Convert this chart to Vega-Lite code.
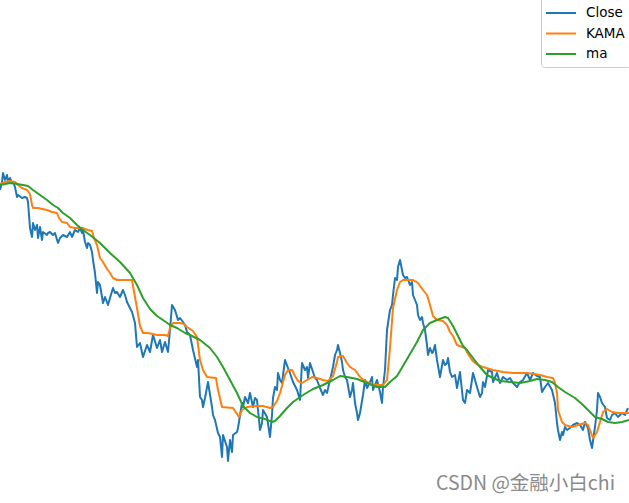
{
  "$schema": "https://vega.github.io/schema/vega-lite/v6.json",
  "width": 629,
  "height": 503,
  "autosize": {"type": "none"},
  "padding": 0,
  "background": "white",
  "config": {"view": {"stroke": null}},
  "datasets": {
    "prices": [
      {"day": 0, "series": "Close", "price": 31.3}, {"day": 2, "series": "Close", "price": 32.1}, {"day": 3, "series": "Close", "price": 33.0},
      {"day": 5, "series": "Close", "price": 32.3}, {"day": 7, "series": "Close", "price": 32.8}, {"day": 8, "series": "Close", "price": 32.1},
      {"day": 10, "series": "Close", "price": 32.5}, {"day": 12, "series": "Close", "price": 32.0}, {"day": 13, "series": "Close", "price": 32.1},
      {"day": 15, "series": "Close", "price": 31.6}, {"day": 17, "series": "Close", "price": 30.6}, {"day": 18, "series": "Close", "price": 30.8},
      {"day": 22, "series": "Close", "price": 30.5}, {"day": 25, "series": "Close", "price": 30.6}, {"day": 27, "series": "Close", "price": 30.5},
      {"day": 28, "series": "Close", "price": 30.1}, {"day": 29, "series": "Close", "price": 28.8}, {"day": 30, "series": "Close", "price": 27.5},
      {"day": 32, "series": "Close", "price": 26.6}, {"day": 33, "series": "Close", "price": 28.0}, {"day": 35, "series": "Close", "price": 27.3},
      {"day": 37, "series": "Close", "price": 27.8}, {"day": 38, "series": "Close", "price": 26.5}, {"day": 40, "series": "Close", "price": 27.6},
      {"day": 42, "series": "Close", "price": 26.3}, {"day": 43, "series": "Close", "price": 27.1}, {"day": 47, "series": "Close", "price": 26.8},
      {"day": 48, "series": "Close", "price": 27.0}, {"day": 50, "series": "Close", "price": 27.1}, {"day": 53, "series": "Close", "price": 26.8},
      {"day": 55, "series": "Close", "price": 27.0}, {"day": 58, "series": "Close", "price": 26.0}, {"day": 60, "series": "Close", "price": 26.5},
      {"day": 63, "series": "Close", "price": 26.8}, {"day": 67, "series": "Close", "price": 26.6}, {"day": 70, "series": "Close", "price": 27.1},
      {"day": 72, "series": "Close", "price": 26.6}, {"day": 75, "series": "Close", "price": 27.3}, {"day": 78, "series": "Close", "price": 27.1},
      {"day": 80, "series": "Close", "price": 27.5}, {"day": 82, "series": "Close", "price": 27.0}, {"day": 83, "series": "Close", "price": 27.3},
      {"day": 85, "series": "Close", "price": 26.1}, {"day": 87, "series": "Close", "price": 25.5}, {"day": 88, "series": "Close", "price": 26.0},
      {"day": 90, "series": "Close", "price": 25.8}, {"day": 92, "series": "Close", "price": 25.1}, {"day": 93, "series": "Close", "price": 24.3},
      {"day": 95, "series": "Close", "price": 23.0}, {"day": 97, "series": "Close", "price": 21.0}, {"day": 98, "series": "Close", "price": 22.1},
      {"day": 100, "series": "Close", "price": 21.8}, {"day": 103, "series": "Close", "price": 20.0}, {"day": 105, "series": "Close", "price": 20.6},
      {"day": 108, "series": "Close", "price": 19.8}, {"day": 110, "series": "Close", "price": 20.5}, {"day": 113, "series": "Close", "price": 21.5},
      {"day": 115, "series": "Close", "price": 21.0}, {"day": 117, "series": "Close", "price": 21.1}, {"day": 120, "series": "Close", "price": 20.6},
      {"day": 123, "series": "Close", "price": 21.3}, {"day": 125, "series": "Close", "price": 20.8}, {"day": 127, "series": "Close", "price": 20.1},
      {"day": 130, "series": "Close", "price": 19.5}, {"day": 132, "series": "Close", "price": 19.1}, {"day": 135, "series": "Close", "price": 18.0},
      {"day": 137, "series": "Close", "price": 15.6}, {"day": 140, "series": "Close", "price": 16.0}, {"day": 143, "series": "Close", "price": 14.6},
      {"day": 147, "series": "Close", "price": 15.8}, {"day": 150, "series": "Close", "price": 15.1}, {"day": 153, "series": "Close", "price": 16.8},
      {"day": 157, "series": "Close", "price": 15.5}, {"day": 160, "series": "Close", "price": 16.3}, {"day": 162, "series": "Close", "price": 15.1},
      {"day": 165, "series": "Close", "price": 16.1}, {"day": 168, "series": "Close", "price": 15.1}, {"day": 170, "series": "Close", "price": 17.3},
      {"day": 172, "series": "Close", "price": 19.8}, {"day": 175, "series": "Close", "price": 19.3}, {"day": 178, "series": "Close", "price": 18.3},
      {"day": 180, "series": "Close", "price": 18.5}, {"day": 183, "series": "Close", "price": 18.1}, {"day": 185, "series": "Close", "price": 17.8},
      {"day": 187, "series": "Close", "price": 17.1}, {"day": 190, "series": "Close", "price": 16.8}, {"day": 193, "series": "Close", "price": 15.3},
      {"day": 197, "series": "Close", "price": 13.6}, {"day": 198, "series": "Close", "price": 14.3}, {"day": 200, "series": "Close", "price": 10.6},
      {"day": 202, "series": "Close", "price": 10.3}, {"day": 203, "series": "Close", "price": 9.6}, {"day": 205, "series": "Close", "price": 10.5},
      {"day": 208, "series": "Close", "price": 12.1}, {"day": 212, "series": "Close", "price": 9.6}, {"day": 213, "series": "Close", "price": 8.8},
      {"day": 215, "series": "Close", "price": 8.3}, {"day": 218, "series": "Close", "price": 7.0}, {"day": 220, "series": "Close", "price": 6.6},
      {"day": 222, "series": "Close", "price": 4.6}, {"day": 223, "series": "Close", "price": 6.8}, {"day": 227, "series": "Close", "price": 5.6},
      {"day": 228, "series": "Close", "price": 4.2}, {"day": 230, "series": "Close", "price": 6.3}, {"day": 232, "series": "Close", "price": 5.1},
      {"day": 233, "series": "Close", "price": 6.8}, {"day": 237, "series": "Close", "price": 7.1}, {"day": 238, "series": "Close", "price": 7.5},
      {"day": 242, "series": "Close", "price": 10.0}, {"day": 243, "series": "Close", "price": 9.6}, {"day": 245, "series": "Close", "price": 10.6},
      {"day": 248, "series": "Close", "price": 10.0}, {"day": 250, "series": "Close", "price": 11.0}, {"day": 253, "series": "Close", "price": 9.6},
      {"day": 255, "series": "Close", "price": 10.5}, {"day": 257, "series": "Close", "price": 10.3}, {"day": 260, "series": "Close", "price": 7.3},
      {"day": 262, "series": "Close", "price": 8.0}, {"day": 263, "series": "Close", "price": 9.3}, {"day": 267, "series": "Close", "price": 8.6},
      {"day": 270, "series": "Close", "price": 6.6}, {"day": 272, "series": "Close", "price": 8.8}, {"day": 273, "series": "Close", "price": 10.5},
      {"day": 275, "series": "Close", "price": 11.6}, {"day": 277, "series": "Close", "price": 11.3}, {"day": 278, "series": "Close", "price": 13.0},
      {"day": 280, "series": "Close", "price": 12.3}, {"day": 282, "series": "Close", "price": 12.0}, {"day": 285, "series": "Close", "price": 14.3},
      {"day": 288, "series": "Close", "price": 13.5}, {"day": 290, "series": "Close", "price": 13.0}, {"day": 293, "series": "Close", "price": 12.1},
      {"day": 297, "series": "Close", "price": 11.3}, {"day": 300, "series": "Close", "price": 10.3}, {"day": 302, "series": "Close", "price": 14.0},
      {"day": 305, "series": "Close", "price": 13.3}, {"day": 307, "series": "Close", "price": 13.6}, {"day": 308, "series": "Close", "price": 12.5},
      {"day": 310, "series": "Close", "price": 14.0}, {"day": 313, "series": "Close", "price": 13.1}, {"day": 315, "series": "Close", "price": 12.5},
      {"day": 317, "series": "Close", "price": 12.3}, {"day": 320, "series": "Close", "price": 11.5}, {"day": 323, "series": "Close", "price": 10.8},
      {"day": 325, "series": "Close", "price": 11.3}, {"day": 327, "series": "Close", "price": 11.0}, {"day": 330, "series": "Close", "price": 12.3},
      {"day": 333, "series": "Close", "price": 13.6}, {"day": 335, "series": "Close", "price": 14.8}, {"day": 337, "series": "Close", "price": 15.3},
      {"day": 338, "series": "Close", "price": 15.8}, {"day": 340, "series": "Close", "price": 15.0}, {"day": 342, "series": "Close", "price": 14.1},
      {"day": 343, "series": "Close", "price": 13.3}, {"day": 345, "series": "Close", "price": 12.6}, {"day": 347, "series": "Close", "price": 12.3},
      {"day": 350, "series": "Close", "price": 10.6}, {"day": 352, "series": "Close", "price": 11.3}, {"day": 353, "series": "Close", "price": 12.0},
      {"day": 355, "series": "Close", "price": 10.0}, {"day": 357, "series": "Close", "price": 9.0}, {"day": 358, "series": "Close", "price": 8.3},
      {"day": 360, "series": "Close", "price": 9.0}, {"day": 363, "series": "Close", "price": 10.8}, {"day": 365, "series": "Close", "price": 12.3},
      {"day": 367, "series": "Close", "price": 11.5}, {"day": 370, "series": "Close", "price": 12.1}, {"day": 372, "series": "Close", "price": 12.6},
      {"day": 373, "series": "Close", "price": 11.3}, {"day": 377, "series": "Close", "price": 12.3}, {"day": 380, "series": "Close", "price": 11.1},
      {"day": 382, "series": "Close", "price": 10.0}, {"day": 383, "series": "Close", "price": 11.6}, {"day": 385, "series": "Close", "price": 13.3},
      {"day": 387, "series": "Close", "price": 17.3}, {"day": 390, "series": "Close", "price": 19.3}, {"day": 392, "series": "Close", "price": 19.8},
      {"day": 393, "series": "Close", "price": 20.8}, {"day": 395, "series": "Close", "price": 22.5}, {"day": 397, "series": "Close", "price": 22.3},
      {"day": 398, "series": "Close", "price": 23.6}, {"day": 400, "series": "Close", "price": 24.3}, {"day": 402, "series": "Close", "price": 23.3},
      {"day": 403, "series": "Close", "price": 22.8}, {"day": 405, "series": "Close", "price": 22.5}, {"day": 407, "series": "Close", "price": 22.6},
      {"day": 410, "series": "Close", "price": 21.8}, {"day": 412, "series": "Close", "price": 22.1}, {"day": 413, "series": "Close", "price": 20.8},
      {"day": 415, "series": "Close", "price": 20.3}, {"day": 417, "series": "Close", "price": 19.8}, {"day": 418, "series": "Close", "price": 18.8},
      {"day": 420, "series": "Close", "price": 18.3}, {"day": 422, "series": "Close", "price": 18.6}, {"day": 423, "series": "Close", "price": 18.0},
      {"day": 425, "series": "Close", "price": 17.3}, {"day": 427, "series": "Close", "price": 15.8}, {"day": 428, "series": "Close", "price": 14.8},
      {"day": 430, "series": "Close", "price": 15.5}, {"day": 432, "series": "Close", "price": 15.0}, {"day": 433, "series": "Close", "price": 15.1},
      {"day": 435, "series": "Close", "price": 15.8}, {"day": 437, "series": "Close", "price": 14.3}, {"day": 440, "series": "Close", "price": 12.6},
      {"day": 443, "series": "Close", "price": 14.3}, {"day": 445, "series": "Close", "price": 13.8}, {"day": 447, "series": "Close", "price": 14.0},
      {"day": 448, "series": "Close", "price": 14.5}, {"day": 450, "series": "Close", "price": 13.1}, {"day": 452, "series": "Close", "price": 12.6},
      {"day": 455, "series": "Close", "price": 12.8}, {"day": 457, "series": "Close", "price": 11.5}, {"day": 460, "series": "Close", "price": 13.1},
      {"day": 463, "series": "Close", "price": 10.3}, {"day": 465, "series": "Close", "price": 10.0}, {"day": 467, "series": "Close", "price": 11.3},
      {"day": 470, "series": "Close", "price": 11.0}, {"day": 473, "series": "Close", "price": 13.0}, {"day": 477, "series": "Close", "price": 11.6},
      {"day": 480, "series": "Close", "price": 10.6}, {"day": 482, "series": "Close", "price": 11.0}, {"day": 483, "series": "Close", "price": 12.1},
      {"day": 485, "series": "Close", "price": 11.6}, {"day": 488, "series": "Close", "price": 13.3}, {"day": 492, "series": "Close", "price": 13.1},
      {"day": 493, "series": "Close", "price": 12.1}, {"day": 497, "series": "Close", "price": 13.0}, {"day": 500, "series": "Close", "price": 12.0},
      {"day": 503, "series": "Close", "price": 12.6}, {"day": 507, "series": "Close", "price": 12.3}, {"day": 510, "series": "Close", "price": 12.5},
      {"day": 513, "series": "Close", "price": 12.0}, {"day": 517, "series": "Close", "price": 11.6}, {"day": 520, "series": "Close", "price": 12.1},
      {"day": 523, "series": "Close", "price": 12.3}, {"day": 527, "series": "Close", "price": 13.0}, {"day": 530, "series": "Close", "price": 12.3},
      {"day": 533, "series": "Close", "price": 13.0}, {"day": 537, "series": "Close", "price": 12.7}, {"day": 540, "series": "Close", "price": 12.6},
      {"day": 542, "series": "Close", "price": 11.1}, {"day": 545, "series": "Close", "price": 11.6}, {"day": 548, "series": "Close", "price": 12.0},
      {"day": 552, "series": "Close", "price": 11.3}, {"day": 555, "series": "Close", "price": 10.0}, {"day": 557, "series": "Close", "price": 8.0},
      {"day": 558, "series": "Close", "price": 7.3}, {"day": 560, "series": "Close", "price": 6.3}, {"day": 562, "series": "Close", "price": 7.1},
      {"day": 563, "series": "Close", "price": 6.8}, {"day": 565, "series": "Close", "price": 7.6}, {"day": 567, "series": "Close", "price": 7.3},
      {"day": 570, "series": "Close", "price": 7.5}, {"day": 573, "series": "Close", "price": 7.8}, {"day": 577, "series": "Close", "price": 8.0},
      {"day": 580, "series": "Close", "price": 7.8}, {"day": 583, "series": "Close", "price": 7.3}, {"day": 585, "series": "Close", "price": 8.1},
      {"day": 588, "series": "Close", "price": 7.5}, {"day": 590, "series": "Close", "price": 6.3}, {"day": 592, "series": "Close", "price": 5.5},
      {"day": 595, "series": "Close", "price": 7.6}, {"day": 597, "series": "Close", "price": 9.3}, {"day": 598, "series": "Close", "price": 11.0},
      {"day": 600, "series": "Close", "price": 10.6}, {"day": 602, "series": "Close", "price": 10.0}, {"day": 605, "series": "Close", "price": 9.6},
      {"day": 607, "series": "Close", "price": 8.5}, {"day": 610, "series": "Close", "price": 8.3}, {"day": 612, "series": "Close", "price": 8.8},
      {"day": 615, "series": "Close", "price": 9.0}, {"day": 618, "series": "Close", "price": 8.6}, {"day": 622, "series": "Close", "price": 9.0},
      {"day": 625, "series": "Close", "price": 8.8}, {"day": 628, "series": "Close", "price": 9.5},

      {"day": 0, "series": "KAMA", "price": 31.9}, {"day": 5, "series": "KAMA", "price": 32.1}, {"day": 10, "series": "KAMA", "price": 32.2},
      {"day": 15, "series": "KAMA", "price": 32.1}, {"day": 18, "series": "KAMA", "price": 31.8}, {"day": 22, "series": "KAMA", "price": 31.5},
      {"day": 27, "series": "KAMA", "price": 31.3}, {"day": 30, "series": "KAMA", "price": 30.9}, {"day": 32, "series": "KAMA", "price": 29.8},
      {"day": 33, "series": "KAMA", "price": 29.5}, {"day": 38, "series": "KAMA", "price": 29.5}, {"day": 47, "series": "KAMA", "price": 29.3},
      {"day": 52, "series": "KAMA", "price": 29.1}, {"day": 57, "series": "KAMA", "price": 29.0}, {"day": 59, "series": "KAMA", "price": 28.5},
      {"day": 62, "series": "KAMA", "price": 28.1}, {"day": 67, "series": "KAMA", "price": 28.0}, {"day": 70, "series": "KAMA", "price": 27.6},
      {"day": 75, "series": "KAMA", "price": 27.5}, {"day": 82, "series": "KAMA", "price": 27.5}, {"day": 88, "series": "KAMA", "price": 27.3},
      {"day": 92, "series": "KAMA", "price": 27.2}, {"day": 94, "series": "KAMA", "price": 26.5}, {"day": 97, "series": "KAMA", "price": 25.8},
      {"day": 100, "series": "KAMA", "price": 24.5}, {"day": 103, "series": "KAMA", "price": 24.1}, {"day": 107, "series": "KAMA", "price": 23.4},
      {"day": 110, "series": "KAMA", "price": 23.0}, {"day": 113, "series": "KAMA", "price": 22.5}, {"day": 117, "series": "KAMA", "price": 22.3},
      {"day": 123, "series": "KAMA", "price": 22.3}, {"day": 132, "series": "KAMA", "price": 22.3}, {"day": 133, "series": "KAMA", "price": 21.7},
      {"day": 137, "series": "KAMA", "price": 19.5}, {"day": 140, "series": "KAMA", "price": 17.7}, {"day": 143, "series": "KAMA", "price": 17.0},
      {"day": 148, "series": "KAMA", "price": 17.0}, {"day": 157, "series": "KAMA", "price": 16.8}, {"day": 165, "series": "KAMA", "price": 16.8},
      {"day": 168, "series": "KAMA", "price": 16.7}, {"day": 170, "series": "KAMA", "price": 17.5}, {"day": 173, "series": "KAMA", "price": 18.0},
      {"day": 180, "series": "KAMA", "price": 18.0}, {"day": 184, "series": "KAMA", "price": 17.9}, {"day": 187, "series": "KAMA", "price": 17.6},
      {"day": 193, "series": "KAMA", "price": 17.2}, {"day": 197, "series": "KAMA", "price": 16.6}, {"day": 200, "series": "KAMA", "price": 14.3},
      {"day": 203, "series": "KAMA", "price": 13.3}, {"day": 207, "series": "KAMA", "price": 12.6}, {"day": 216, "series": "KAMA", "price": 12.5},
      {"day": 218, "series": "KAMA", "price": 11.3}, {"day": 222, "series": "KAMA", "price": 9.6}, {"day": 233, "series": "KAMA", "price": 9.5},
      {"day": 237, "series": "KAMA", "price": 8.9}, {"day": 239, "series": "KAMA", "price": 8.6}, {"day": 242, "series": "KAMA", "price": 9.3},
      {"day": 247, "series": "KAMA", "price": 9.6}, {"day": 257, "series": "KAMA", "price": 9.7}, {"day": 263, "series": "KAMA", "price": 9.7},
      {"day": 270, "series": "KAMA", "price": 9.5}, {"day": 273, "series": "KAMA", "price": 9.6}, {"day": 277, "series": "KAMA", "price": 10.2},
      {"day": 280, "series": "KAMA", "price": 11.0}, {"day": 285, "series": "KAMA", "price": 12.8}, {"day": 288, "series": "KAMA", "price": 13.3},
      {"day": 292, "series": "KAMA", "price": 13.3}, {"day": 295, "series": "KAMA", "price": 12.7}, {"day": 298, "series": "KAMA", "price": 12.2},
      {"day": 302, "series": "KAMA", "price": 12.0}, {"day": 307, "series": "KAMA", "price": 12.3}, {"day": 312, "series": "KAMA", "price": 12.6},
      {"day": 317, "series": "KAMA", "price": 12.5}, {"day": 323, "series": "KAMA", "price": 12.3}, {"day": 328, "series": "KAMA", "price": 12.2},
      {"day": 333, "series": "KAMA", "price": 12.7}, {"day": 337, "series": "KAMA", "price": 14.1}, {"day": 338, "series": "KAMA", "price": 14.6},
      {"day": 343, "series": "KAMA", "price": 14.7}, {"day": 347, "series": "KAMA", "price": 14.0}, {"day": 350, "series": "KAMA", "price": 13.6},
      {"day": 355, "series": "KAMA", "price": 13.3}, {"day": 360, "series": "KAMA", "price": 12.6}, {"day": 365, "series": "KAMA", "price": 12.2},
      {"day": 373, "series": "KAMA", "price": 11.8}, {"day": 383, "series": "KAMA", "price": 11.8}, {"day": 387, "series": "KAMA", "price": 12.3},
      {"day": 390, "series": "KAMA", "price": 15.5}, {"day": 393, "series": "KAMA", "price": 19.5}, {"day": 397, "series": "KAMA", "price": 21.3},
      {"day": 400, "series": "KAMA", "price": 22.1}, {"day": 403, "series": "KAMA", "price": 22.3}, {"day": 413, "series": "KAMA", "price": 22.3},
      {"day": 418, "series": "KAMA", "price": 22.0}, {"day": 423, "series": "KAMA", "price": 21.3}, {"day": 427, "series": "KAMA", "price": 20.8},
      {"day": 430, "series": "KAMA", "price": 19.8}, {"day": 433, "series": "KAMA", "price": 18.7}, {"day": 437, "series": "KAMA", "price": 18.3},
      {"day": 443, "series": "KAMA", "price": 18.2}, {"day": 447, "series": "KAMA", "price": 17.8}, {"day": 450, "series": "KAMA", "price": 17.1},
      {"day": 453, "series": "KAMA", "price": 16.7}, {"day": 457, "series": "KAMA", "price": 15.8}, {"day": 462, "series": "KAMA", "price": 15.6},
      {"day": 465, "series": "KAMA", "price": 15.5}, {"day": 468, "series": "KAMA", "price": 14.9}, {"day": 472, "series": "KAMA", "price": 14.3},
      {"day": 475, "series": "KAMA", "price": 14.0}, {"day": 478, "series": "KAMA", "price": 13.8}, {"day": 483, "series": "KAMA", "price": 13.6},
      {"day": 493, "series": "KAMA", "price": 13.3}, {"day": 503, "series": "KAMA", "price": 13.1}, {"day": 513, "series": "KAMA", "price": 13.0},
      {"day": 527, "series": "KAMA", "price": 13.0}, {"day": 540, "series": "KAMA", "price": 12.8}, {"day": 547, "series": "KAMA", "price": 12.6},
      {"day": 553, "series": "KAMA", "price": 12.5}, {"day": 555, "series": "KAMA", "price": 12.0}, {"day": 557, "series": "KAMA", "price": 11.0},
      {"day": 558, "series": "KAMA", "price": 9.3}, {"day": 562, "series": "KAMA", "price": 8.1}, {"day": 565, "series": "KAMA", "price": 7.8},
      {"day": 572, "series": "KAMA", "price": 7.6}, {"day": 578, "series": "KAMA", "price": 7.8}, {"day": 585, "series": "KAMA", "price": 8.0},
      {"day": 588, "series": "KAMA", "price": 7.8}, {"day": 590, "series": "KAMA", "price": 7.3}, {"day": 593, "series": "KAMA", "price": 6.5},
      {"day": 597, "series": "KAMA", "price": 7.1}, {"day": 600, "series": "KAMA", "price": 8.1}, {"day": 603, "series": "KAMA", "price": 9.1},
      {"day": 607, "series": "KAMA", "price": 9.4}, {"day": 612, "series": "KAMA", "price": 9.1}, {"day": 618, "series": "KAMA", "price": 9.0},
      {"day": 629, "series": "KAMA", "price": 9.0},

      {"day": 0, "series": "ma", "price": 31.8}, {"day": 5, "series": "ma", "price": 31.9}, {"day": 10, "series": "ma", "price": 32.0},
      {"day": 17, "series": "ma", "price": 31.9}, {"day": 23, "series": "ma", "price": 31.8}, {"day": 28, "series": "ma", "price": 31.7},
      {"day": 33, "series": "ma", "price": 31.3}, {"day": 40, "series": "ma", "price": 30.8}, {"day": 47, "series": "ma", "price": 30.3},
      {"day": 53, "series": "ma", "price": 29.8}, {"day": 58, "series": "ma", "price": 29.5}, {"day": 63, "series": "ma", "price": 29.0},
      {"day": 70, "series": "ma", "price": 28.5}, {"day": 77, "series": "ma", "price": 27.8}, {"day": 83, "series": "ma", "price": 27.3},
      {"day": 90, "series": "ma", "price": 26.8}, {"day": 100, "series": "ma", "price": 26.0}, {"day": 110, "series": "ma", "price": 25.0},
      {"day": 120, "series": "ma", "price": 24.1}, {"day": 130, "series": "ma", "price": 23.0}, {"day": 137, "series": "ma", "price": 21.8},
      {"day": 143, "series": "ma", "price": 20.5}, {"day": 150, "series": "ma", "price": 19.4}, {"day": 157, "series": "ma", "price": 18.7},
      {"day": 163, "series": "ma", "price": 18.3}, {"day": 170, "series": "ma", "price": 17.8}, {"day": 177, "series": "ma", "price": 17.5},
      {"day": 185, "series": "ma", "price": 17.0}, {"day": 190, "series": "ma", "price": 16.8}, {"day": 200, "series": "ma", "price": 16.3},
      {"day": 210, "series": "ma", "price": 15.5}, {"day": 217, "series": "ma", "price": 14.6}, {"day": 223, "series": "ma", "price": 13.6},
      {"day": 230, "series": "ma", "price": 12.3}, {"day": 237, "series": "ma", "price": 11.0}, {"day": 243, "series": "ma", "price": 9.7},
      {"day": 250, "series": "ma", "price": 9.0}, {"day": 257, "series": "ma", "price": 8.6}, {"day": 265, "series": "ma", "price": 8.4},
      {"day": 272, "series": "ma", "price": 8.1}, {"day": 275, "series": "ma", "price": 8.2}, {"day": 280, "series": "ma", "price": 8.7},
      {"day": 287, "series": "ma", "price": 9.5}, {"day": 293, "series": "ma", "price": 10.1}, {"day": 303, "series": "ma", "price": 10.8},
      {"day": 313, "series": "ma", "price": 11.4}, {"day": 323, "series": "ma", "price": 11.8}, {"day": 333, "series": "ma", "price": 12.3},
      {"day": 340, "series": "ma", "price": 12.7}, {"day": 347, "series": "ma", "price": 12.6}, {"day": 357, "series": "ma", "price": 12.4},
      {"day": 367, "series": "ma", "price": 12.0}, {"day": 377, "series": "ma", "price": 11.6}, {"day": 385, "series": "ma", "price": 11.6},
      {"day": 390, "series": "ma", "price": 12.1}, {"day": 397, "series": "ma", "price": 12.7}, {"day": 403, "series": "ma", "price": 13.7},
      {"day": 410, "series": "ma", "price": 14.9}, {"day": 417, "series": "ma", "price": 16.1}, {"day": 423, "series": "ma", "price": 17.3},
      {"day": 430, "series": "ma", "price": 18.0}, {"day": 437, "series": "ma", "price": 18.3}, {"day": 445, "series": "ma", "price": 18.6},
      {"day": 448, "series": "ma", "price": 18.5}, {"day": 453, "series": "ma", "price": 17.7}, {"day": 457, "series": "ma", "price": 16.9},
      {"day": 463, "series": "ma", "price": 15.7}, {"day": 467, "series": "ma", "price": 15.3}, {"day": 473, "series": "ma", "price": 14.5},
      {"day": 480, "series": "ma", "price": 13.6}, {"day": 487, "series": "ma", "price": 12.8}, {"day": 493, "series": "ma", "price": 12.5},
      {"day": 500, "series": "ma", "price": 12.2}, {"day": 510, "series": "ma", "price": 12.1}, {"day": 520, "series": "ma", "price": 12.0},
      {"day": 530, "series": "ma", "price": 12.2}, {"day": 537, "series": "ma", "price": 12.4}, {"day": 545, "series": "ma", "price": 12.3},
      {"day": 552, "series": "ma", "price": 12.1}, {"day": 558, "series": "ma", "price": 11.6}, {"day": 565, "series": "ma", "price": 11.1},
      {"day": 575, "series": "ma", "price": 10.5}, {"day": 583, "series": "ma", "price": 9.8}, {"day": 590, "series": "ma", "price": 9.1},
      {"day": 595, "series": "ma", "price": 8.6}, {"day": 602, "series": "ma", "price": 8.4}, {"day": 608, "series": "ma", "price": 8.1},
      {"day": 615, "series": "ma", "price": 8.0}, {"day": 622, "series": "ma", "price": 8.1}, {"day": 629, "series": "ma", "price": 8.3}
    ],
    "watermark": [
      {"day": 615, "price": 1.9, "label": "CSDN @金融小白chi"}
    ]
  },
  "layer": [
    {
      "data": {"name": "prices"},
      "mark": {"type": "line", "strokeWidth": 2, "strokeJoin": "round"},
      "encoding": {
        "x": {"field": "day", "type": "quantitative", "scale": {"domain": [0, 629], "nice": false, "zero": false}, "axis": null},
        "y": {"field": "price", "type": "quantitative", "scale": {"domain": [0, 50.3], "nice": false}, "axis": null},
        "color": {
          "field": "series",
          "type": "nominal",
          "scale": {"domain": ["Close", "KAMA", "ma"], "range": ["#1f77b4", "#ff7f0e", "#2ca02c"]},
          "legend": {
            "title": null,
            "orient": "none",
            "legendX": 541,
            "legendY": -4,
            "symbolType": "M-1.5,0L1.5,0",
            "symbolSize": 400,
            "symbolStrokeWidth": 2,
            "symbolOffset": 3,
            "labelFont": "DejaVu Sans",
            "labelFontSize": 13.5,
            "labelColor": "#000000",
            "labelOffset": 14,
            "rowPadding": 2.5,
            "padding": 6,
            "strokeColor": "#cccccc",
            "fillColor": "rgba(255,255,255,0.8)",
            "cornerRadius": 3
          }
        }
      }
    },
    {
      "data": {"name": "watermark"},
      "mark": {"type": "text", "align": "right", "baseline": "middle", "font": "Noto Sans CJK SC", "fontSize": 19.5, "color": "#8a8a8a"},
      "encoding": {
        "x": {"field": "day", "type": "quantitative"},
        "y": {"field": "price", "type": "quantitative"},
        "text": {"field": "label"}
      }
    }
  ]
}
